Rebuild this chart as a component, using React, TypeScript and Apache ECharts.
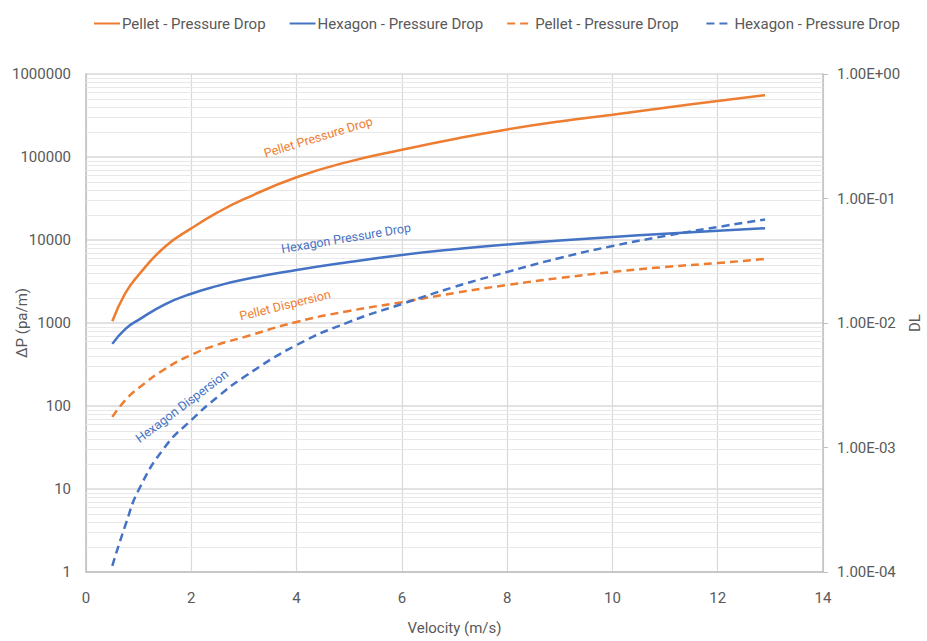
import React, { useEffect, useRef } from "react";
import * as echarts from "echarts";

// Velocity samples (m/s)
const velocity = [0.5, 0.75, 1, 1.5, 2, 2.5, 3, 4, 5, 6, 7, 8, 9, 10, 11, 12, 12.9];

// Pressure drop (pa/m), left axis
const pelletPressureDrop = [1050, 2300, 3800, 8300, 13800, 21500, 31000, 57000, 88000, 122000, 165000, 215000, 268000, 322000, 393000, 472000, 555000];
const hexagonPressureDrop = [560, 850, 1090, 1680, 2250, 2800, 3350, 4350, 5430, 6600, 7730, 8830, 9860, 10870, 11875, 12910, 13830];

// Axial dispersion DL, right axis
const pelletDispersion = [0.00176, 0.00241, 0.003, 0.00427, 0.00555, 0.0067, 0.0077, 0.0102, 0.0125, 0.0147, 0.0174, 0.0202, 0.023, 0.0257, 0.0282, 0.0303, 0.0327];
const hexagonDispersion = [0.000112, 0.000239, 0.000456, 0.00101, 0.00166, 0.00255, 0.00368, 0.00665, 0.0102, 0.0142, 0.0195, 0.0257, 0.0333, 0.0415, 0.05, 0.059, 0.0678];

const legendNames = [
  "Pellet - Pressure Drop",
  "Hexagon - Pressure Drop",
  "Pellet - Pressure Drop ",
  "Hexagon - Pressure Drop ",
];

// In-plot curve labels: [text, velocity, ΔP, angle in degrees, colour]
const curveLabels: [string, number, number, number, string][] = [
  ["Pellet Pressure Drop", 4.41, 174000, 17, "#ED7D31"],
  ["Hexagon Pressure Drop", 4.94, 10580, 9.5, "#4472C4"],
  ["Pellet Dispersion", 3.78, 1650, 14, "#ED7D31"],
  ["Hexagon Dispersion", 1.82, 100, 37, "#4472C4"],
];

const ORANGE = "#ED7D31";
const BLUE = "#4472C4";
const FONT = "Roboto, 'Open Sans', sans-serif";

// Minor log grid values 2..9 × 10^k on the ΔP axis
const minorGrid: number[] = [];
for (let k = 0; k < 6; k++) {
  for (let m = 2; m <= 9; m++) minorGrid.push(m * Math.pow(10, k));
}

const pairs = (ys: number[]) => velocity.map((x, i) => [x, ys[i]]);

const sciLabel = (v: number) => {
  const e = Math.round(Math.log10(v));
  const mant = v / Math.pow(10, e);
  const sign = e < 0 ? "-" : "+";
  return `${mant.toFixed(2)}E${sign}${String(Math.abs(e)).padStart(2, "0")}`;
};

export default function App() {
  const ref = useRef<HTMLDivElement>(null);

  useEffect(() => {
    if (!ref.current) return;
    const chart = echarts.init(ref.current, undefined, { renderer: "svg" });

    const lineSeries = (name: string, data: number[], color: string, dashed: boolean, yAxisIndex: number) => ({
      name,
      type: "line",
      yAxisIndex,
      data: pairs(data),
      showSymbol: false,
      symbol: "none",
      smooth: 0.5,
      z: 3,
      lineStyle: { color, width: 2.5, type: dashed ? [8, 5] : "solid" },
      itemStyle: { color },
    });

    const axisName = { color: "#595959", fontSize: 15 };

    chart.setOption({
      animation: false,
      textStyle: { fontFamily: FONT },
      legend: {
        data: legendNames,
        top: 11,
        left: 88,
        itemWidth: 26,
        itemHeight: 14,
        itemGap: 23,
        itemStyle: { opacity: 0 },
        textStyle: { color: "#595959", fontSize: 15, fontFamily: FONT, padding: [0, 0, 0, -3] },
      },
      grid: { left: 86, right: 104, top: 74, bottom: 69, containLabel: false, outerBoundsMode: "none" },
      xAxis: {
        type: "value",
        min: 0,
        max: 14,
        interval: 2,
        name: "Velocity (m/s)",
        nameLocation: "middle",
        nameGap: 48,
        nameMoveOverlap: false,
        nameTextStyle: axisName,
        axisLine: { show: true, lineStyle: { color: "#bfbfbf", width: 1.5 } },
        axisTick: { show: false },
        axisLabel: { color: "#595959", fontSize: 15, margin: 18 },
        splitLine: { show: true, lineStyle: { color: "#d9d9d9", width: 1.2 } },
      },
      yAxis: [
        {
          type: "log",
          logBase: 10,
          min: 1,
          max: 1000000,
          position: "left",
          name: "ΔP (pa/m)",
          nameLocation: "middle",
          nameGap: 57,
          nameMoveOverlap: false,
          nameTextStyle: axisName,
          axisLine: { show: true, lineStyle: { color: "#bfbfbf", width: 1.5 } },
          axisTick: { show: false },
          axisLabel: { color: "#595959", fontSize: 15, margin: 15, formatter: (v: number) => String(Math.round(v)) },
          splitLine: { show: true, lineStyle: { color: "#d9d9d9", width: 1.5 } },
        },
        {
          type: "log",
          logBase: 10,
          min: 0.0001,
          max: 1,
          position: "right",
          name: "DL",
          nameLocation: "middle",
          nameGap: 84,
          nameMoveOverlap: false,
          nameTextStyle: axisName,
          axisLine: { show: true, lineStyle: { color: "#bfbfbf", width: 1.5 } },
          axisTick: { show: true, length: 5, lineStyle: { color: "#bfbfbf" } },
          axisLabel: { color: "#595959", fontSize: 15, margin: 14, formatter: sciLabel },
          splitLine: { show: false },
        },
      ],
      series: [
        {
          name: "",
          type: "line",
          yAxisIndex: 0,
          data: [],
          silent: true,
          z: 1,
          markLine: {
            silent: true,
            symbol: "none",
            z: 1,
            label: { show: false },
            lineStyle: { color: "#e8e8e8", width: 1, type: "solid" },
            emphasis: { disabled: true },
            data: minorGrid.map((v) => ({ yAxis: v })),
          },
        },
        lineSeries(legendNames[0], pelletPressureDrop, ORANGE, false, 0),
        lineSeries(legendNames[1], hexagonPressureDrop, BLUE, false, 0),
        lineSeries(legendNames[2], pelletDispersion, ORANGE, true, 1),
        lineSeries(legendNames[3], hexagonDispersion, BLUE, true, 1),
      ],
    });

    // Curve labels placed at data coordinates
    const graphics = curveLabels.map(([text, x, y, angle, color]) => {
      const [px, py] = chart.convertToPixel({ xAxisIndex: 0, yAxisIndex: 0 }, [x, y]) as number[];
      return {
        type: "text",
        x: px,
        y: py,
        rotation: (angle * Math.PI) / 180,
        silent: true,
        z: 10,
        style: {
          text,
          fill: color,
          font: `12.5px ${FONT}`,
          align: "center",
          verticalAlign: "middle",
        },
      };
    });
    chart.setOption({ graphic: graphics });

    return () => chart.dispose();
  }, []);

  return (
    <div
      ref={ref}
      style={{ position: "fixed", left: 0, top: 0, width: 927, height: 641, background: "#fff" }}
    />
  );
}
